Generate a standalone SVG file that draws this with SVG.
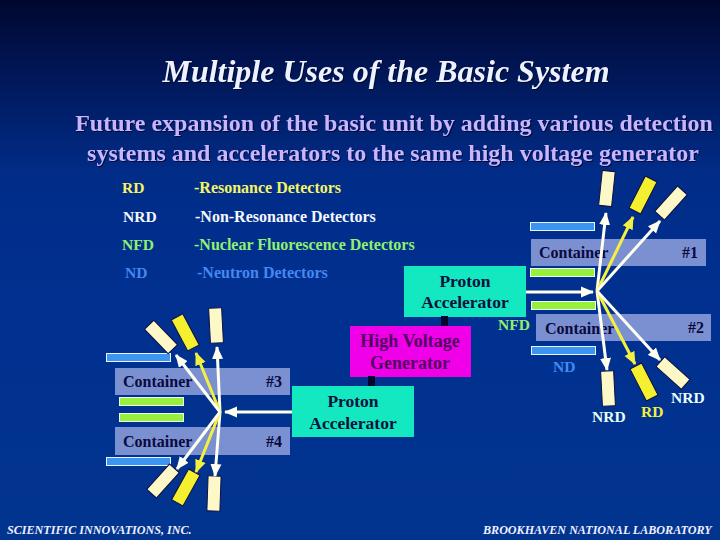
<svg xmlns="http://www.w3.org/2000/svg" width="720" height="540" viewBox="0 0 720 540">
<defs>
<linearGradient id="bg" x1="0" y1="0" x2="0" y2="1"><stop offset="0" stop-color="#00072e"/><stop offset="0.08" stop-color="#011048"/><stop offset="0.32" stop-color="#012c88"/><stop offset="0.55" stop-color="#013090"/><stop offset="1" stop-color="#01348f"/></linearGradient>
<marker id="aw" markerUnits="userSpaceOnUse" markerWidth="14" markerHeight="12" refX="12" refY="6" orient="auto"><path d="M0 0.5L13 6L0 11.500z" fill="#fffff0"/></marker>
<marker id="ay" markerUnits="userSpaceOnUse" markerWidth="14" markerHeight="12" refX="12" refY="6" orient="auto"><path d="M0 0.5L13 6L0 11.500z" fill="#f4f040"/></marker>
</defs>
<style>
text{font-family:"Liberation Serif","Times New Roman",serif;font-weight:bold}
.title{font-size:32px;font-style:italic;fill:#eef2ff;filter:drop-shadow(1px 1px 0 #000a30)}
.sub{font-size:24px;fill:#c8b4ff;filter:drop-shadow(1px 1px 0 #000a30)}
.k{font-size:15.5px}
.d{font-size:16px}
.rd{fill:#f4f464}
.nrd{fill:#f4f8ff}
.nfd{fill:#90f070}
.nd{fill:#4488f0}
.blk{font-size:16px;fill:#0a0a40}
.acc{font-size:17.5px;fill:#06103c}
.hvt{font-size:18px;fill:#500060}
.foot{font-size:12.1px;font-style:italic;fill:#f0f0ff}
.cont{fill:#7a90d0}
.bb{fill:#3c96f0;stroke:#e8f4ff;stroke-width:1}
.gb{fill:#96f03c;stroke:#f0fff0;stroke-width:1}
.cy{fill:#14e8c0}
.det{fill:#fdf8c8;stroke:#101040;stroke-width:1}
.dety{fill:#f4f030;stroke:#101040;stroke-width:1}
.w{stroke:#fffff0;stroke-width:3;fill:none;marker-end:url(#aw)}
.y{stroke:#f4f040;stroke-width:3;fill:none;marker-end:url(#ay)}
</style>
<rect width="720" height="540" fill="url(#bg)"/>
<text class="title" x="386" y="82" text-anchor="middle">Multiple Uses of the Basic System</text>
<text class="sub" x="394" y="131" text-anchor="middle">Future expansion of the basic unit by adding various detection</text>
<text class="sub" x="393" y="161" text-anchor="middle">systems and accelerators to the same high voltage generator</text>
<g id="legend">
<text class="k rd" x="122" y="193">RD</text><text class="k nrd" x="123" y="222">NRD</text><text class="k nfd" x="122" y="250">NFD</text><text class="k nd" x="125" y="278">ND</text>
<text class="d rd" x="194" y="193">-Resonance Detectors</text><text class="d nrd" x="195" y="222">-Non-Resonance Detectors</text><text class="d nfd" x="194" y="250">-Nuclear Fluorescence Detectors</text><text class="d nd" x="197" y="278">-Neutron Detectors</text>
</g>
<g id="container-1"><rect class="cont" x="531" y="239" width="175" height="27"/><text class="blk" x="539" y="258">Container</text><text class="blk" x="682" y="258">#1</text></g>
<g id="container-2"><rect class="cont" x="536" y="314" width="175" height="27"/><text class="blk" x="545" y="334">Container</text><text class="blk" x="688" y="333">#2</text></g>
<g id="container-3"><rect class="cont" x="115" y="368" width="175" height="27"/><text class="blk" x="123" y="387">Container</text><text class="blk" x="266" y="387">#3</text></g>
<g id="container-4"><rect class="cont" x="115" y="427" width="175" height="28"/><text class="blk" x="123" y="447">Container</text><text class="blk" x="266" y="447">#4</text></g>
<g id="hv"><rect x="350" y="326" width="121" height="51" fill="#f000e8"/><text class="hvt" x="410" y="347" text-anchor="middle">High Voltage</text><text class="hvt" x="410" y="369" text-anchor="middle">Generator</text></g>
<g id="acc-top"><rect class="cy" x="404" y="266" width="122" height="51"/><rect x="441" y="316" width="7" height="10" fill="#050530"/><text class="acc" x="465" y="287" text-anchor="middle">Proton</text><text class="acc" x="465" y="308" text-anchor="middle">Accelerator</text></g>
<g id="acc-bottom"><rect class="cy" x="292" y="386" width="122" height="51"/><rect x="368" y="376" width="7" height="10" fill="#050530"/><text class="acc" x="353" y="407" text-anchor="middle">Proton</text><text class="acc" x="353" y="429" text-anchor="middle">Accelerator</text></g>
<g id="bars">
<rect class="bb" x="530.500" y="222.500" width="64" height="8"/><rect class="gb" x="530.500" y="268.500" width="64" height="8"/><rect class="gb" x="531.500" y="301.500" width="64" height="8"/><rect class="bb" x="531.500" y="346.500" width="64" height="8"/>
<rect class="bb" x="106.500" y="353.500" width="64" height="8"/><rect class="gb" x="119.500" y="397.500" width="64" height="8"/><rect class="gb" x="119.500" y="413.500" width="64" height="8"/><rect class="bb" x="106.500" y="457.500" width="64" height="8"/>
</g>
<g id="detectors">
<rect class="det" x="-6.500" y="-17" width="13" height="35" transform="translate(607 188) rotate(6)"/>
<rect class="dety" x="-6.500" y="-18" width="13" height="36" transform="translate(643 195) rotate(27)"/>
<rect class="det" x="-6.500" y="-17" width="13" height="34" transform="translate(671 203) rotate(42)"/>
<rect class="det" x="-6.500" y="-17" width="13" height="35" transform="translate(608 388) rotate(-3)"/>
<rect class="dety" x="-6.500" y="-18" width="13" height="36" transform="translate(644 382) rotate(-27)"/>
<rect class="det" x="-6.500" y="-17" width="13" height="34" transform="translate(673 373) rotate(-48)"/>
<rect class="det" x="-6.500" y="-17" width="13" height="35" transform="translate(216 325) rotate(-3)"/>
<rect class="dety" x="-6.500" y="-17" width="13" height="35" transform="translate(185 332) rotate(-28)"/>
<rect class="det" x="-6.500" y="-17" width="13" height="34" transform="translate(161 337) rotate(-44)"/>
<rect class="det" x="-6.500" y="-17" width="13" height="35" transform="translate(214 493) rotate(2)"/>
<rect class="dety" x="-6.500" y="-17" width="13" height="35" transform="translate(186 487) rotate(29)"/>
<rect class="det" x="-6.500" y="-17" width="13" height="34" transform="translate(163 481) rotate(42)"/>
</g>
<g id="connectors">
<path class="w" d="M526 292H593"/>
<path class="w" d="M597 291L606 213"/><path class="y" d="M597 291L633 217"/><path class="w" d="M597 291L660 221"/>
<path class="w" d="M597 291L607 370"/><path class="y" d="M597 291L635 364"/><path class="w" d="M597 291L660 360"/>
<path class="w" d="M292 412H225"/>
<path class="w" d="M220 412L217 347"/><path class="y" d="M220 412L196 353"/><path class="w" d="M220 412L176 355"/>
<path class="w" d="M220 412L215 476"/><path class="y" d="M220 412L196 472"/><path class="w" d="M220 412L177 469"/>
</g>
<g id="labels">
<text class="k nfd" x="498" y="330">NFD</text>
<text class="k" x="553" y="372" fill="#3c8ef0">ND</text>
<text class="k" x="592" y="422" fill="#e8fff8">NRD</text>
<text class="k" x="641" y="417" fill="#f4f040">RD</text>
<text class="k" x="671" y="403" fill="#e8fff8">NRD</text>
</g>
<text class="foot" x="7" y="534">SCIENTIFIC INNOVATIONS, INC.</text>
<text class="foot" x="483" y="534">BROOKHAVEN NATIONAL LABORATORY</text>
</svg>
